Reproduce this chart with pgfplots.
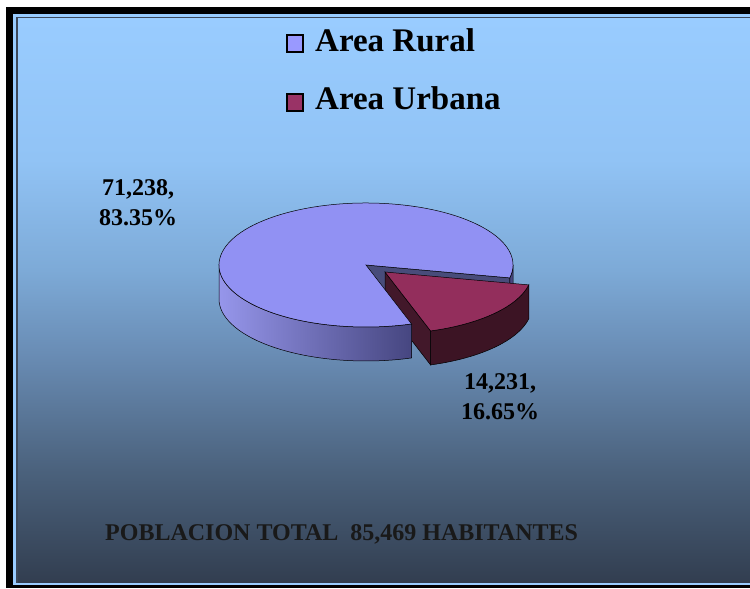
\documentclass[border=0pt]{standalone}
\usepackage{pgfplots}
\pgfplotsset{compat=1.18}
\usepackage{pgfplotstable}
\usepackage{fontspec}
\setmainfont{Liberation Serif}

\definecolor{bg0}{RGB}{50,62,80}
\definecolor{bg1}{RGB}{75,98,125}
\definecolor{bg2}{RGB}{105,140,180}
\definecolor{bg3}{RGB}{125,170,215}
\definecolor{bg4}{RGB}{145,195,245}
\definecolor{bg5}{RGB}{153,204,255}
\definecolor{frameline}{RGB}{60,72,90}
\definecolor{rural}{RGB}{153,153,255}
\definecolor{ruraltop}{RGB}{145,145,243}
\definecolor{ruralsideL}{RGB}{150,150,235}
\definecolor{ruralsideR}{RGB}{70,70,128}
\definecolor{ruralcut}{RGB}{72,76,122}
\definecolor{urbana}{RGB}{153,51,102}
\definecolor{urbanatop}{RGB}{147,46,92}
\definecolor{urbanaside}{RGB}{60,20,36}
\definecolor{urbanacut}{RGB}{66,24,42}

\pgfdeclareverticalshading{bgshade}{100bp}{color(0bp)=(bg0); color(25bp)=(bg0); color(35bp)=(bg1); color(45.2bp)=(bg2); color(52.7bp)=(bg3); color(62.5bp)=(bg4); color(75bp)=(bg5); color(100bp)=(bg5)}

\pgfplotstableread{
cat value
Rural 71238
Urbana 14231
}\piedata

\pgfplotstablegetelem{0}{value}\of\piedata
\let\vRural\pgfplotsretval
\pgfplotstablegetelem{1}{value}\of\piedata
\let\vUrbana\pgfplotsretval
% geometry (1 axis unit = 1bp)
\def\cx{366}
\def\cy{323}
\def\ux{385}
\def\uy{316}
\def\rx{147}
\def\ry{62}
\def\dep{34}
\def\sA{-12}
\edef\uSpan{\fpeval{360*\vUrbana/(\vRural+\vUrbana)}}
\edef\aA{\fpeval{\sA-\uSpan}}
\edef\eA{\fpeval{\aA+360}}
\edef\rSx{\fpeval{\cx+\rx*cosd(\sA)}}
\edef\rSy{\fpeval{\cy+\ry*sind(\sA)}}
\edef\uAx{\fpeval{\ux+\rx*cosd(\aA)}}
\edef\uAy{\fpeval{\uy+\ry*sind(\aA)}}
\edef\rLx{\fpeval{\cx-\rx}}

\begin{document}%
\begin{tikzpicture}
\begin{axis}[width=750bp,height=588bp,scale only axis,hide axis,
  xmin=0,xmax=750,ymin=0,ymax=588,clip=false]
% background and frame
\fill[white] (axis cs:0,0) rectangle (axis cs:750,588);
\fill[black] (axis cs:6,0) rectangle (axis cs:750,581);
\fill[bg5] (axis cs:13,3) rectangle (axis cs:750,574);
\fill[frameline] (axis cs:16,5) rectangle (axis cs:750,571);
\fill[shading=bgshade] (axis cs:18,6) rectangle (axis cs:750,569);
% rural cut face at start angle
\filldraw[fill=ruralcut,draw=black,line width=0.5bp]
  (axis cs:\cx,\cy) -- (axis cs:\rSx,\rSy) -- ++(0,-\dep bp) -- (axis cs:\cx,\cy-\dep) -- cycle;
% rural right rim
\filldraw[fill=ruralsideR,draw=black,line width=0.5bp]
  (axis cs:\rSx,\rSy) arc[start angle=\sA,end angle=0,x radius=\rx bp,y radius=\ry bp]
  -- ++(0,-\dep bp) arc[start angle=0,end angle=\sA,x radius=\rx bp,y radius=\ry bp] -- cycle;
% urbana left cut face
\filldraw[fill=urbanacut,draw=black,line width=0.5bp]
  (axis cs:\ux,\uy) -- (axis cs:\uAx,\uAy) -- ++(0,-\dep bp) -- (axis cs:\ux,\uy-\dep) -- cycle;
% urbana rim
\filldraw[fill=urbanaside,draw=black,line width=0.5bp]
  (axis cs:\uAx,\uAy) arc[start angle=\aA,end angle=\sA,x radius=\rx bp,y radius=\ry bp]
  -- ++(0,-\dep bp) arc[start angle=\sA,end angle=\aA,x radius=\rx bp,y radius=\ry bp] -- cycle;
% urbana top
\filldraw[fill=urbanatop,draw=black,line width=0.5bp]
  (axis cs:\ux,\uy) -- (axis cs:\uAx,\uAy) arc[start angle=\aA,end angle=\sA,x radius=\rx bp,y radius=\ry bp] -- cycle;
% rural front rim
\shade[left color=ruralsideL,right color=ruralsideR]
  (axis cs:\rLx,\cy) arc[start angle=180,end angle=\eA,x radius=\rx bp,y radius=\ry bp]
  -- ++(0,-\dep bp) arc[start angle=\eA,end angle=180,x radius=\rx bp,y radius=\ry bp] -- cycle;
\draw[black,line width=0.5bp]
  (axis cs:\rLx,\cy) arc[start angle=180,end angle=\eA,x radius=\rx bp,y radius=\ry bp]
  -- ++(0,-\dep bp) arc[start angle=\eA,end angle=180,x radius=\rx bp,y radius=\ry bp] -- cycle;
% rural top
\filldraw[fill=ruraltop,draw=black,line width=0.5bp]
  (axis cs:\cx,\cy) -- (axis cs:\rSx,\rSy) arc[start angle=\sA,end angle=\eA,x radius=\rx bp,y radius=\ry bp] -- cycle;
% legend
\filldraw[fill=rural,draw=black,line width=1.5bp] (axis cs:287,536) rectangle (axis cs:303,553);
\filldraw[fill=urbana,draw=black,line width=1.5bp] (axis cs:287,477) rectangle (axis cs:303,494);
\node[anchor=base west,inner sep=0pt,font=\fontsize{33bp}{36bp}\selectfont\bfseries] at (axis cs:315,536) {Area Rural};
\node[anchor=base west,inner sep=0pt,font=\fontsize{33bp}{36bp}\selectfont\bfseries] at (axis cs:315,478) {Area Urbana};
% data labels
\node[align=center,inner sep=0pt,font=\fontsize{24bp}{30bp}\selectfont\bfseries] at (axis cs:138,385) {71,238,\\83.35\%};
\node[align=center,inner sep=0pt,font=\fontsize{24bp}{30bp}\selectfont\bfseries] at (axis cs:500,191) {14,231,\\16.65\%};
% total
\node[anchor=base west,inner sep=0pt,font=\fontsize{24bp}{28bp}\selectfont\bfseries,text=black!90] at (axis cs:105,48) {POBLACION TOTAL\ \ 85,469 HABITANTES};
\end{axis}
\pgfresetboundingbox
\path[use as bounding box] (current axis.south west) rectangle (current axis.north east);
\end{tikzpicture}%
\end{document}
